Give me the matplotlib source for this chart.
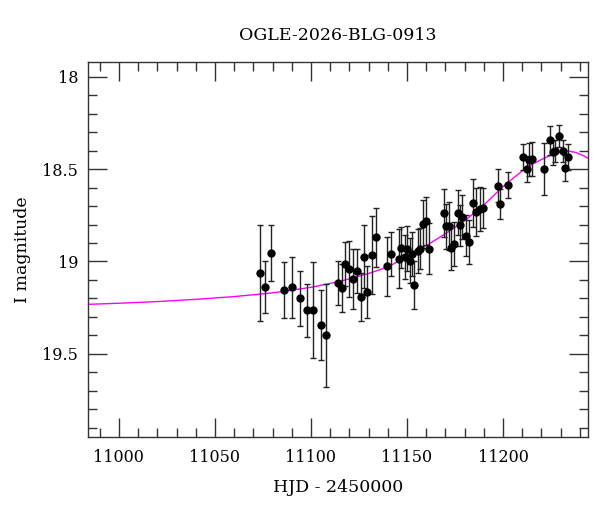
"""Light curve of OGLE-2026-BLG-0913 with model fit."""
import matplotlib; matplotlib.use("Agg")
import matplotlib.pyplot as plt
from matplotlib.ticker import MultipleLocator

plt.rcParams["font.family"] = "DejaVu Serif"

# photometry: HJD-2450000, I mag, error
hjd = [11073.3, 11076.3, 11079.2, 11086.1, 11090.2, 11094.2, 11098.1, 11101.1, 11105.1, 11108.0,
       11114.0, 11116.0, 11117.9, 11120.0, 11121.9, 11124.0, 11125.9, 11127.8, 11129.1, 11131.8,
       11133.9, 11139.8, 11141.9, 11145.7, 11146.9, 11148.8, 11150.0, 11151.8, 11152.6, 11153.9,
       11155.6, 11156.8, 11158.5, 11160.0, 11161.7, 11169.5, 11170.5, 11171.9, 11172.8, 11174.5,
       11176.5, 11177.7, 11178.5, 11180.6, 11182.5, 11184.4, 11186.0, 11188.1, 11189.6, 11197.4,
       11198.5, 11202.5, 11210.3, 11212.4, 11213.8, 11215.3, 11221.4, 11224.4, 11226.3, 11227.3,
       11229.4, 11231.3, 11232.5, 11234.0]
mag = [19.06, 19.14, 18.955, 19.155, 19.14, 19.20, 19.265, 19.265, 19.345, 19.40,
       19.115, 19.145, 19.015, 19.04, 19.095, 19.05, 19.19, 18.975, 19.165, 18.965,
       18.87, 19.025, 18.96, 18.985, 18.925, 18.975, 18.93, 18.995, 18.96, 19.125,
       18.945, 18.93, 18.795, 18.78, 18.93, 18.74, 18.81, 18.81, 18.925, 18.905,
       18.735, 18.805, 18.76, 18.86, 18.895, 18.685, 18.73, 18.715, 18.71, 18.59,
       18.69, 18.585, 18.435, 18.50, 18.45, 18.445, 18.50, 18.345, 18.41, 18.40,
       18.32, 18.40, 18.495, 18.435]
err = [0.26, 0.14, 0.15, 0.15, 0.165, 0.15, 0.145, 0.26, 0.19, 0.28,
       0.12, 0.13, 0.12, 0.15, 0.16, 0.12, 0.13, 0.17, 0.14, 0.21,
       0.16, 0.16, 0.12, 0.16, 0.11, 0.12, 0.12, 0.12, 0.12, 0.13,
       0.12, 0.11, 0.13, 0.13, 0.14, 0.13, 0.12, 0.13, 0.12, 0.12,
       0.12, 0.11, 0.12, 0.11, 0.12, 0.13, 0.13, 0.12, 0.11, 0.09,
       0.08, 0.07, 0.07, 0.07, 0.09, 0.09, 0.14, 0.08, 0.07, 0.06,
       0.06, 0.06, 0.07, 0.07]

# model curve
model_t = [10984, 11000, 11020, 11040, 11060, 11080, 11100, 11115, 11130, 11140,
           11150, 11160, 11170, 11180, 11190, 11200, 11210, 11216, 11222, 11226,
           11230, 11234, 11238, 11242, 11245]
model_m = [19.232, 19.226, 19.217, 19.205, 19.190, 19.170, 19.140, 19.108, 19.065, 19.030,
           18.975, 18.915, 18.850, 18.780, 18.695, 18.595, 18.510, 18.470, 18.438, 18.420,
           18.407, 18.402, 18.410, 18.428, 18.445]

fig = plt.figure(figsize=(6, 5.12), dpi=100)
ax = fig.add_axes([0.1467, 0.1465, 0.8333, 0.7325])

ax.plot(model_t, model_m, color="#ff00ff", lw=1.0, zorder=2)
ax.errorbar(hjd, mag, yerr=err, fmt="o", color="black", ms=5, elinewidth=1.0,
            capsize=2.5, capthick=1.0, ecolor="#222222", zorder=3)

ax.set_xlim(10983.9, 11244.3)
ax.set_ylim(19.95, 17.92)
ax.xaxis.set_major_locator(MultipleLocator(50))
ax.xaxis.set_minor_locator(MultipleLocator(10))
ax.yaxis.set_major_locator(MultipleLocator(0.5))
ax.yaxis.set_minor_locator(MultipleLocator(0.1))
ax.yaxis.set_major_formatter(plt.FuncFormatter(lambda v, p: f"{v:g}"))
ax.tick_params(which="both", direction="in", top=True, right=True, color="#333333", width=1.0)
ax.tick_params(which="major", length=13.5, labelsize=11.5)
ax.tick_params(axis="x", which="major", pad=9)
ax.tick_params(axis="y", which="major", pad=7)
ax.tick_params(which="minor", length=6.5)
for s in ax.spines.values():
    s.set_linewidth(1.0); s.set_color("#333333")

ax.set_title("OGLE-2026-BLG-0913", fontsize=12.5, pad=16)
ax.set_xlabel("HJD - 2450000", fontsize=12.5, labelpad=9)
ax.set_ylabel("I magnitude", fontsize=12.5, labelpad=8)

fig.savefig("out.png", dpi=100)
